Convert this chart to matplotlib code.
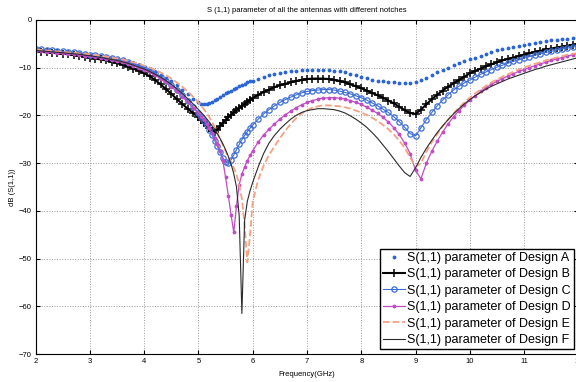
import numpy as np
import matplotlib
matplotlib.use("Agg")
import matplotlib.pyplot as plt

plt.rcParams['font.family'] = ['Liberation Sans', 'DejaVu Sans']

# frequency grid (GHz): 0.1 steps, 0.05 steps around the 5-6 GHz notches
freq = np.round(np.concatenate([np.arange(2.0, 4.95, 0.1),
                                np.arange(5.0, 5.99, 0.05),
                                np.arange(6.0, 12.05, 0.1)]), 2)

# S(1,1) in dB
s11_a = [-6.2, -6.3, -6.4, -6.5, -6.6, -6.7, -6.8, -6.9, -7.0, -7.2,
         -7.3, -7.5, -7.6, -7.8, -8.0, -8.2, -8.5, -8.8, -9.1, -9.5,
         -9.9, -10.4, -10.9, -11.5, -12.2, -12.9, -13.7, -14.6, -15.6, -16.6,
         -17.3, -17.6, -17.7, -17.6, -17.4, -17.1, -16.8, -16.5, -16.1, -15.8,
         -15.4, -15.1, -14.8, -14.5, -14.2, -13.9, -13.6, -13.4, -13.1, -12.9,
         -12.7, -12.3, -11.9, -11.6, -11.3, -11.1, -10.9, -10.8, -10.7, -10.6,
         -10.6, -10.6, -10.6, -10.6, -10.6, -10.7, -10.8, -11.0, -11.3, -11.6,
         -11.9, -12.2, -12.5, -12.7, -12.9, -13.0, -13.1, -13.2, -13.3, -13.3,
         -13.0, -12.6, -12.1, -11.6, -11.0, -10.5, -10.0, -9.5, -9.1, -8.7,
         -8.3, -7.9, -7.5, -7.1, -6.7, -6.4, -6.1, -5.8, -5.6, -5.4,
         -5.2, -5.0, -4.8, -4.6, -4.5, -4.3, -4.2, -4.1, -4.0, -3.9,
         -3.8]

s11_b = [-6.6, -6.7, -6.8, -6.9, -7.0, -7.1, -7.2, -7.4, -7.5, -7.7,
         -7.9, -8.1, -8.3, -8.5, -8.8, -9.1, -9.4, -9.8, -10.2, -10.7,
         -11.2, -11.8, -12.6, -13.5, -14.5, -15.5, -16.6, -17.6, -18.6, -19.5,
         -20.4, -20.9, -21.5, -22.1, -22.7, -23.2, -23.4, -23.0, -22.2, -21.6,
         -21.0, -20.4, -19.9, -19.4, -18.9, -18.5, -18.0, -17.6, -17.2, -16.8,
         -16.4, -15.7, -15.1, -14.6, -14.1, -13.7, -13.4, -13.1, -12.8, -12.6,
         -12.4, -12.3, -12.3, -12.3, -12.4, -12.6, -12.8, -13.1, -13.5, -13.9,
         -14.3, -14.8, -15.3, -15.8, -16.3, -16.9, -17.5, -18.2, -18.9, -19.5,
         -19.7, -18.8, -17.7, -16.6, -15.7, -14.8, -14.0, -13.3, -12.6, -11.9,
         -11.2, -10.7, -10.2, -9.7, -9.3, -8.9, -8.5, -8.2, -7.9, -7.6,
         -7.3, -7.0, -6.7, -6.5, -6.2, -6.0, -5.8, -5.6, -5.4, -5.2,
         -5.1]

s11_c = [-6.1, -6.2, -6.3, -6.4, -6.5, -6.6, -6.7, -6.8, -7.0, -7.1,
         -7.3, -7.4, -7.6, -7.8, -8.0, -8.2, -8.5, -8.8, -9.2, -9.6,
         -10.1, -10.6, -11.2, -11.9, -12.7, -13.6, -14.6, -15.7, -16.9, -18.2,
         -19.5, -20.3, -21.1, -22.0, -23.0, -24.1, -25.3, -26.5, -27.7, -28.9,
         -29.7, -30.0, -29.3, -28.3, -27.2, -26.1, -25.1, -24.2, -23.4, -22.7,
         -22.0, -20.8, -19.7, -18.8, -18.0, -17.3, -16.7, -16.2, -15.7, -15.3,
         -15.0, -14.8, -14.7, -14.6, -14.6, -14.7, -14.9, -15.2, -15.5, -15.9,
         -16.3, -16.8, -17.4, -18.0, -18.7, -19.4, -20.3, -21.3, -22.5, -23.8,
         -24.3, -22.6, -20.9, -19.4, -18.0, -16.8, -15.7, -14.7, -13.9, -13.2,
         -12.6, -12.0, -11.4, -10.9, -10.4, -9.9, -9.5, -9.1, -8.7, -8.4,
         -8.0, -7.7, -7.4, -7.1, -6.8, -6.6, -6.3, -6.1, -5.9, -5.7,
         -5.5]

s11_d = [-6.5, -6.6, -6.7, -6.8, -6.9, -7.0, -7.1, -7.2, -7.3, -7.5,
         -7.6, -7.8, -8.0, -8.2, -8.4, -8.6, -8.9, -9.2, -9.6, -10.0,
         -10.5, -11.0, -11.6, -12.3, -13.1, -14.0, -15.0, -16.1, -17.2, -18.4,
         -19.6, -20.3, -21.0, -21.8, -22.7, -23.7, -24.8, -26.0, -27.4, -29.6,
         -33.0, -36.8, -40.8, -44.5, -39.0, -34.5, -32.3, -30.8, -29.5, -28.4,
         -27.4, -25.6, -24.1, -22.9, -21.8, -20.8, -19.9, -19.1, -18.4, -17.8,
         -17.3, -16.9, -16.6, -16.4, -16.3, -16.3, -16.4, -16.6, -16.9, -17.3,
         -17.7, -18.3, -18.9, -19.6, -20.4, -21.4, -22.6, -24.0, -25.8, -28.0,
         -31.5, -33.3, -30.0, -27.5, -25.4, -23.5, -21.8, -20.3, -19.0, -17.9,
         -16.8, -15.9, -15.0, -14.2, -13.5, -12.9, -12.3, -11.8, -11.3, -10.8,
         -10.4, -10.0, -9.6, -9.2, -8.9, -8.5, -8.2, -7.9, -7.6, -7.3,
         -7.0]

s11_e = [-6.2, -6.3, -6.4, -6.5, -6.6, -6.7, -6.8, -6.9, -7.0, -7.1,
         -7.2, -7.4, -7.5, -7.7, -7.9, -8.1, -8.3, -8.6, -8.9, -9.2,
         -9.6, -10.0, -10.5, -11.0, -11.6, -12.3, -13.1, -14.0, -15.0, -16.1,
         -17.3, -18.0, -18.7, -19.5, -20.4, -21.4, -22.5, -23.7, -24.9, -26.2,
         -27.5, -28.7, -29.8, -31.0, -32.4, -34.5, -37.5, -43.0, -50.8, -45.0,
         -38.0, -33.5, -30.5, -28.3, -26.5, -24.8, -23.2, -21.8, -20.6, -19.6,
         -18.9, -18.4, -18.1, -17.9, -17.9, -18.0, -18.1, -18.3, -18.6, -19.0,
         -19.4, -19.9, -20.5, -21.2, -22.0, -22.9, -24.0, -25.3, -26.8, -28.8,
         -30.8, -30.0, -27.6, -25.6, -23.9, -22.3, -20.9, -19.6, -18.4, -17.3,
         -16.3, -15.4, -14.6, -13.8, -13.1, -12.5, -11.9, -11.4, -10.9, -10.4,
         -10.0, -9.6, -9.2, -8.9, -8.5, -8.2, -7.9, -7.6, -7.3, -7.1,
         -6.9]

s11_f = [-6.4, -6.5, -6.6, -6.7, -6.8, -6.9, -7.0, -7.1, -7.2, -7.4,
         -7.5, -7.7, -7.9, -8.1, -8.3, -8.5, -8.8, -9.1, -9.5, -9.9,
         -10.3, -10.8, -11.4, -12.0, -12.7, -13.5, -14.4, -15.4, -16.5, -17.6,
         -18.8, -19.4, -20.0, -20.7, -21.4, -22.2, -23.0, -23.9, -24.9, -26.0,
         -27.2, -28.6, -30.2, -32.2, -35.0, -41.0, -61.5, -42.0, -38.0, -35.8,
         -34.0, -30.8, -28.0, -25.8, -24.2, -22.9, -21.8, -20.8, -20.0, -19.4,
         -19.0, -18.8, -18.6, -18.6, -18.7, -18.8, -19.1, -19.5, -20.1, -20.8,
         -21.6, -22.5, -23.6, -24.8, -26.2, -27.6, -29.1, -30.6, -32.0, -32.8,
         -31.0, -28.8, -26.9, -25.2, -23.6, -22.2, -20.9, -19.7, -18.6, -17.6,
         -16.7, -15.9, -15.2, -14.5, -13.9, -13.4, -12.9, -12.4, -12.0, -11.6,
         -11.2, -10.8, -10.4, -10.1, -9.7, -9.4, -9.1, -8.8, -8.5, -8.2,
         -7.9]

labels = ['S(1,1) parameter of Design ' + d for d in 'ABCDEF']

fig = plt.figure(figsize=(5.76, 3.82), dpi=100)
ax = fig.add_axes([0.062, 0.073, 0.942, 0.875])

ax.plot(freq, s11_a, linestyle='none', marker='.', ms=3.5, color='#2a64d6', label=labels[0])
ax.plot(freq, s11_b, '-', color='black', lw=1.5, marker='+', ms=5.5, mew=1.1, label=labels[1])
ax.plot(freq, s11_c, '-', color='#3c6ed8', lw=0.8, marker='o', ms=3.8, mfc='none', mew=0.9, label=labels[2])
ax.plot(freq, s11_d, '-', color='#c24cc4', lw=0.9, marker='.', ms=3.5, label=labels[3])
ax.plot(freq, s11_e, '--', color='#f5a182', lw=1.3, label=labels[4])
ax.plot(freq, s11_f, '-', color='#2b2b2b', lw=0.8, label=labels[5])

ax.set_xlim(2, 12)
ax.set_ylim(-70, 0)
ax.set_xticks(range(2, 13))
ax.set_yticks(range(-70, 1, 10))
ax.grid(True, linestyle=':', color='#9a9a9a', lw=0.7)
ax.tick_params(direction='in', length=3, labelsize=5.5, top=True, right=True, pad=3)
for s in ax.spines.values():
    s.set_linewidth(0.8)

ax.set_title('S (1,1) parameter of all the antennas with different notches', fontsize=5.5, pad=6)
ax.set_xlabel('Frequency(GHz)', fontsize=5.5, labelpad=4)
ax.set_ylabel('dB (S(1,1))', fontsize=5.5, labelpad=2)

leg = ax.legend(loc='lower right', bbox_to_anchor=(574 / 576, 1 - 349 / 382),
                bbox_transform=fig.transFigure, fontsize=9, numpoints=1,
                handlelength=1.8, handletextpad=0.15, labelspacing=0.35,
                borderpad=0.25, borderaxespad=0, fancybox=False, framealpha=1)
leg.get_frame().set_edgecolor('black')
leg.get_frame().set_linewidth(1.0)

fig.savefig('out.png', dpi=100)
